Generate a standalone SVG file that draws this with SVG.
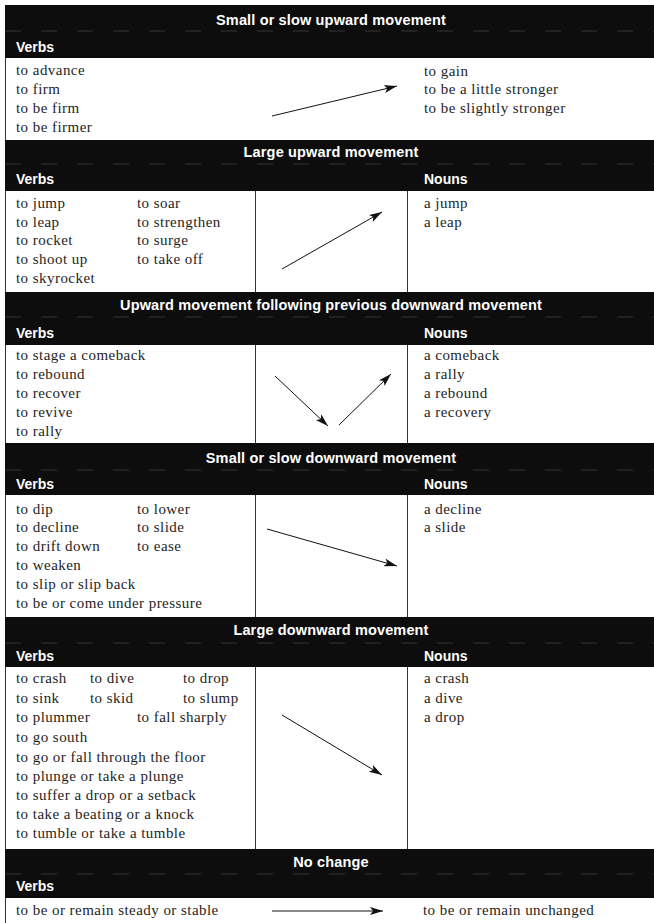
<svg xmlns="http://www.w3.org/2000/svg" width="654" height="923" viewBox="0 0 654 923">
<defs>
<style>
.bar{fill:#0d0d0d}
.div{stroke:#484848;stroke-width:0.7;stroke-dasharray:16 20;fill:none}
.ttl{font-family:"Liberation Sans",Arial,sans-serif;font-weight:bold;font-size:14.5px;letter-spacing:0.15px;fill:#fff;text-anchor:middle}
.sub{font-family:"Liberation Sans",Arial,sans-serif;font-weight:bold;font-size:14px;fill:#fff}
.t{font-family:"Liberation Serif","Times New Roman",serif;font-size:15px;letter-spacing:0.45px;fill:#1e1e1e}
.rule{stroke:#333;stroke-width:1;fill:none}
.arr{stroke:#111;stroke-width:1;fill:none;marker-end:url(#ah)}
</style>
<marker id="ah" markerUnits="userSpaceOnUse" markerWidth="14" markerHeight="10" refX="13" refY="4" orient="auto">
<path d="M0,0 L13,4 L0,8 L3,4 z" fill="#111"/>
</marker>
</defs>
<rect width="654" height="923" fill="#fff"/>

<g id="frame">
<line class="rule" x1="5.5" y1="58" x2="5.5" y2="923"/>
<line class="rule" x1="255.5" y1="191" x2="255.5" y2="292"/>
<line class="rule" x1="407.5" y1="191" x2="407.5" y2="292"/>
<line class="rule" x1="255.5" y1="345" x2="255.5" y2="443"/>
<line class="rule" x1="407.5" y1="345" x2="407.5" y2="443"/>
<line class="rule" x1="255.5" y1="495" x2="255.5" y2="617"/>
<line class="rule" x1="407.5" y1="495" x2="407.5" y2="617"/>
<line class="rule" x1="255.5" y1="667" x2="255.5" y2="849"/>
<line class="rule" x1="407.5" y1="667" x2="407.5" y2="849"/>
</g>

<g id="section1">
<rect class="bar" x="5" y="5" width="649" height="53"/>
<line class="div" x1="5" y1="31" x2="654" y2="31"/>
<text class="ttl" x="331" y="25">Small or slow upward movement</text>
<text class="sub" x="16" y="52">Verbs</text>
<text class="t" x="16" y="75">to advance</text>
<text class="t" x="16" y="94">to firm</text>
<text class="t" x="16" y="113">to be firm</text>
<text class="t" x="16" y="132">to be firmer</text>
<text class="t" x="424" y="76">to gain</text>
<text class="t" x="424" y="94">to be a little stronger</text>
<text class="t" x="424" y="113">to be slightly stronger</text>
</g>

<g id="section2">
<rect class="bar" x="5" y="140" width="649" height="51"/>
<line class="div" x1="5" y1="164" x2="654" y2="164"/>
<text class="ttl" x="331" y="157">Large upward movement</text>
<text class="sub" x="16" y="184">Verbs</text>
<text class="sub" x="424" y="184">Nouns</text>
<text class="t" x="16" y="208">to jump</text>
<text class="t" x="16" y="227">to leap</text>
<text class="t" x="16" y="245">to rocket</text>
<text class="t" x="16" y="264">to shoot up</text>
<text class="t" x="16" y="283">to skyrocket</text>
<text class="t" x="137" y="208">to soar</text>
<text class="t" x="137" y="227">to strengthen</text>
<text class="t" x="137" y="245">to surge</text>
<text class="t" x="137" y="264">to take off</text>
<text class="t" x="424" y="208">a jump</text>
<text class="t" x="424" y="227">a leap</text>
</g>

<g id="section3">
<rect class="bar" x="5" y="292" width="649" height="53"/>
<line class="div" x1="5" y1="317" x2="654" y2="317"/>
<text class="ttl" x="331" y="310">Upward movement following previous downward movement</text>
<text class="sub" x="16" y="338">Verbs</text>
<text class="sub" x="424" y="338">Nouns</text>
<text class="t" x="16" y="360">to stage a comeback</text>
<text class="t" x="16" y="379">to rebound</text>
<text class="t" x="16" y="398">to recover</text>
<text class="t" x="16" y="417">to revive</text>
<text class="t" x="16" y="436">to rally</text>
<text class="t" x="424" y="360">a comeback</text>
<text class="t" x="424" y="379">a rally</text>
<text class="t" x="424" y="398">a rebound</text>
<text class="t" x="424" y="417">a recovery</text>
</g>

<g id="section4">
<rect class="bar" x="5" y="443" width="649" height="52"/>
<line class="div" x1="5" y1="470" x2="654" y2="470"/>
<text class="ttl" x="331" y="463">Small or slow downward movement</text>
<text class="sub" x="16" y="489">Verbs</text>
<text class="sub" x="424" y="489">Nouns</text>
<text class="t" x="16" y="514">to dip</text>
<text class="t" x="16" y="532">to decline</text>
<text class="t" x="16" y="551">to drift down</text>
<text class="t" x="16" y="570">to weaken</text>
<text class="t" x="16" y="589">to slip or slip back</text>
<text class="t" x="16" y="608">to be or come under pressure</text>
<text class="t" x="137" y="514">to lower</text>
<text class="t" x="137" y="532">to slide</text>
<text class="t" x="137" y="551">to ease</text>
<text class="t" x="424" y="514">a decline</text>
<text class="t" x="424" y="532">a slide</text>
</g>

<g id="section5">
<rect class="bar" x="5" y="617" width="649" height="50"/>
<line class="div" x1="5" y1="643" x2="654" y2="643"/>
<text class="ttl" x="331" y="635">Large downward movement</text>
<text class="sub" x="16" y="661">Verbs</text>
<text class="sub" x="424" y="661">Nouns</text>
<text class="t" x="16" y="683">to crash</text>
<text class="t" x="90" y="683">to dive</text>
<text class="t" x="183" y="683">to drop</text>
<text class="t" x="16" y="703">to sink</text>
<text class="t" x="90" y="703">to skid</text>
<text class="t" x="183" y="703">to slump</text>
<text class="t" x="16" y="722">to plummer</text>
<text class="t" x="137" y="722">to fall sharply</text>
<text class="t" x="16" y="742">to go south</text>
<text class="t" x="16" y="762">to go or fall through the floor</text>
<text class="t" x="16" y="781">to plunge or take a plunge</text>
<text class="t" x="16" y="800">to suffer a drop or a setback</text>
<text class="t" x="16" y="819">to take a beating or a knock</text>
<text class="t" x="16" y="838">to tumble or take a tumble</text>
<text class="t" x="424" y="683">a crash</text>
<text class="t" x="424" y="703">a dive</text>
<text class="t" x="424" y="722">a drop</text>
</g>

<g id="section6">
<rect class="bar" x="5" y="849" width="649" height="49"/>
<line class="div" x1="5" y1="874" x2="654" y2="874"/>
<text class="ttl" x="331" y="867">No change</text>
<text class="sub" x="16" y="891">Verbs</text>
<text class="t" x="16" y="915">to be or remain steady or stable</text>
<text class="t" x="423" y="915">to be or remain unchanged</text>
</g>

<g id="connectors">
<line class="arr" x1="272" y1="116" x2="397" y2="86"/>
<line class="arr" x1="282" y1="269" x2="382" y2="212"/>
<line class="arr" x1="275" y1="376" x2="328" y2="426"/>
<line class="arr" x1="339" y1="425" x2="391" y2="374"/>
<line class="arr" x1="267" y1="529" x2="397" y2="566"/>
<line class="arr" x1="282" y1="715" x2="382" y2="775"/>
<line class="arr" x1="272" y1="911" x2="383" y2="911"/>
</g>
</svg>
